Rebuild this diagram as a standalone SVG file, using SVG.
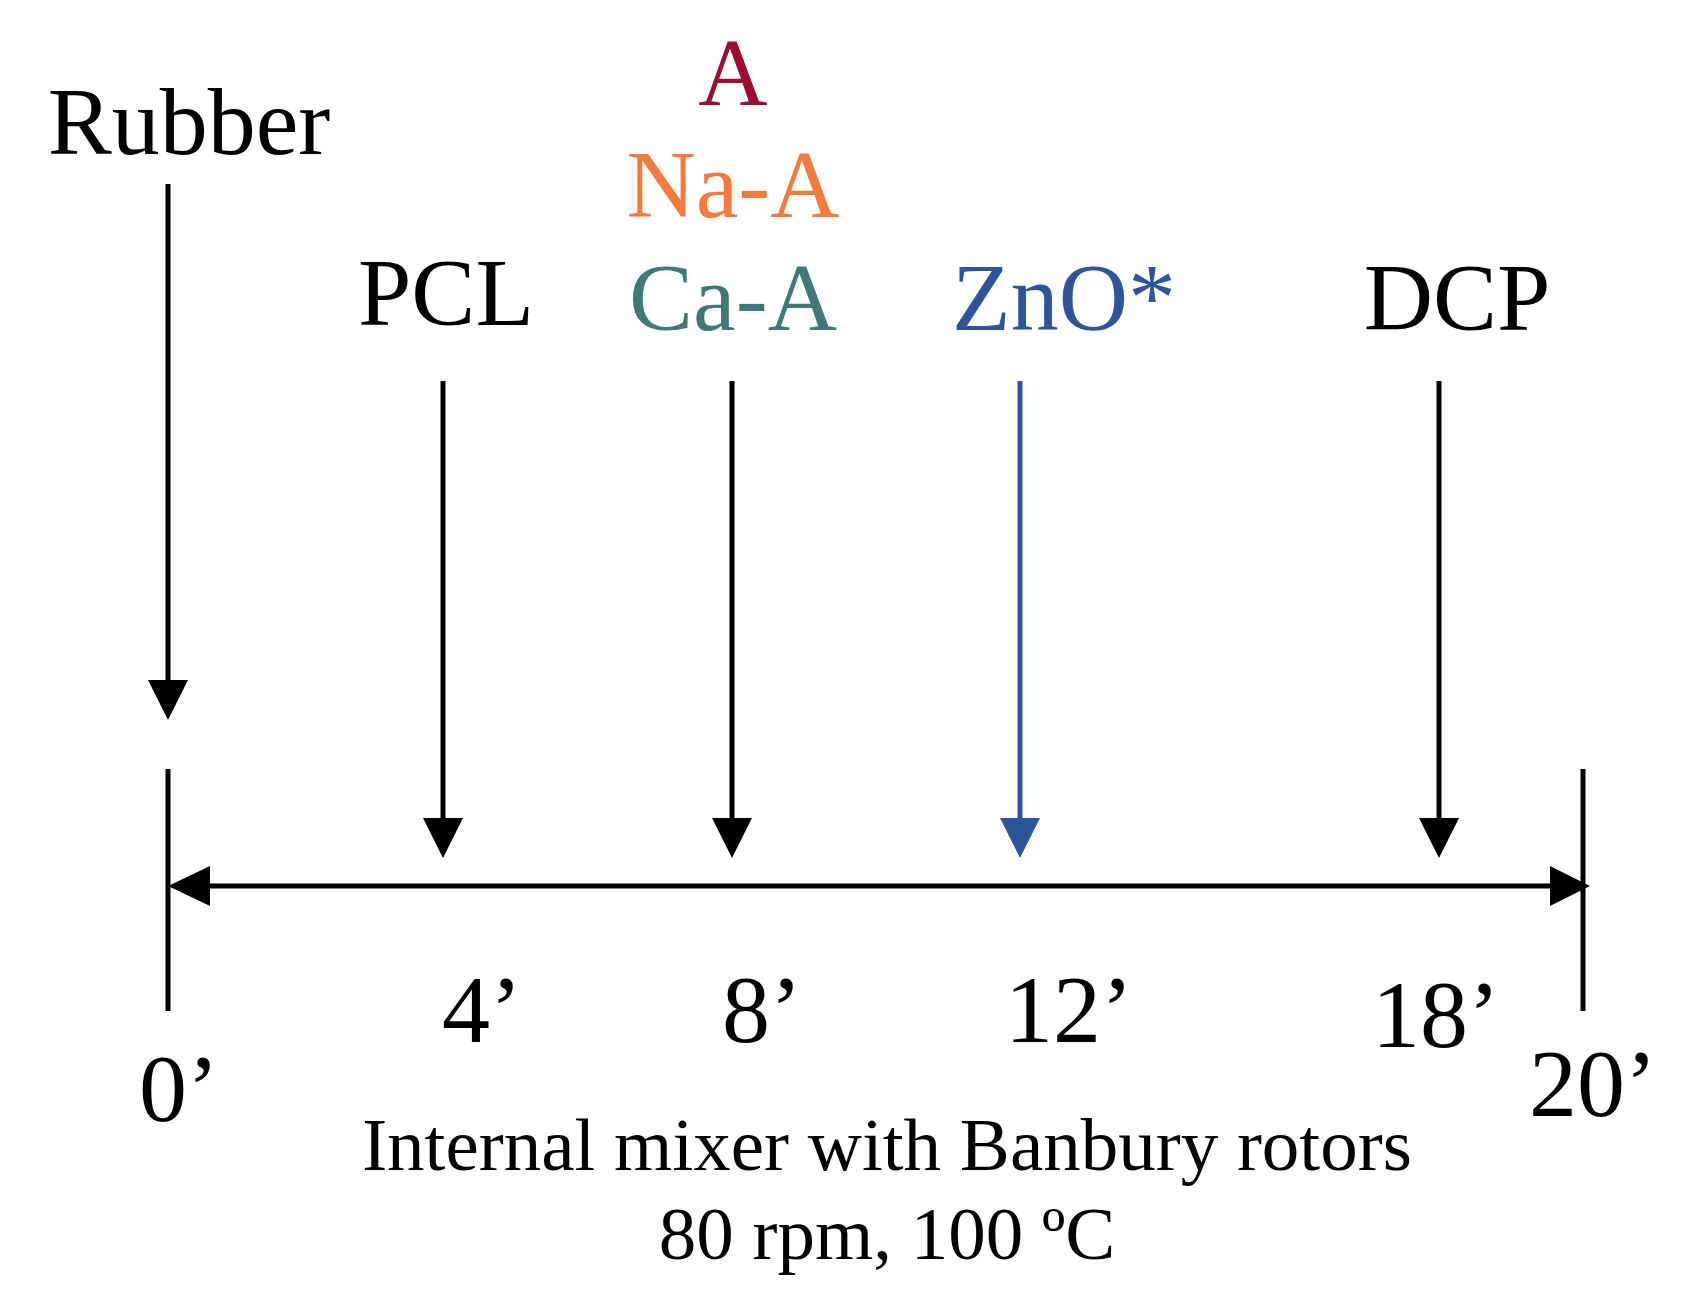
<svg xmlns="http://www.w3.org/2000/svg" width="1699" height="1310" viewBox="0 0 1699 1310">
<style>
text{font-family:"Liberation Serif","Times New Roman",serif;text-anchor:middle}
.l{font-size:96px}
.b{font-size:75px}
.s{stroke:#000;stroke-width:5;fill:none}
</style>
<rect width="1699" height="1310" fill="#fff"/>
<g id="connectors">
<line class="s" x1="168" y1="184" x2="168" y2="685"/><polygon points="148,680 188,680 168,720"/>
<line class="s" x1="443" y1="381" x2="443" y2="825"/><polygon points="423,818 463,818 443,858"/>
<line class="s" x1="732" y1="381" x2="732" y2="825"/><polygon points="712,818 752,818 732,858"/>
<line x1="1020" y1="381" x2="1020" y2="825" stroke="#2e5599" stroke-width="5"/><polygon points="1000,818 1040,818 1020,858" fill="#2e5599"/>
<line class="s" x1="1439" y1="381" x2="1439" y2="825"/><polygon points="1419,818 1459,818 1439,858"/>
<line class="s" x1="168" y1="769" x2="168" y2="1011"/>
<line class="s" x1="1583" y1="769" x2="1583" y2="1011"/>
<line class="s" x1="200" y1="886" x2="1555" y2="886"/>
<polygon points="168,886 210,866 210,906"/>
<polygon points="1590,886 1550,866 1550,906"/>
</g>
<g id="labels">
<text class="l" x="189" y="154">Rubber</text>
<text class="l" x="446" y="325">PCL</text>
<text class="l" x="733" y="105" fill="#9b0d31">A</text>
<text class="l" x="733" y="217" fill="#f47b3e">Na-A</text>
<text class="l" x="733" y="330" fill="#3f7a78">Ca-A</text>
<text class="l" x="1064" y="330" fill="#2e5599">ZnO*</text>
<text class="l" x="1457" y="330">DCP</text>
<text class="l" x="482" y="1042">4’</text>
<text class="l" x="762" y="1042">8’</text>
<text class="l" x="1069" y="1042">12’</text>
<text class="l" x="1436" y="1047">18’</text>
<text class="l" x="179" y="1121">0’</text>
<text class="l" x="1593" y="1116">20’</text>
<text class="b" x="887" y="1170">Internal mixer with Banbury rotors</text>
<text class="b" x="887" y="1259">80 rpm, 100 ºC</text>
</g>
</svg>
